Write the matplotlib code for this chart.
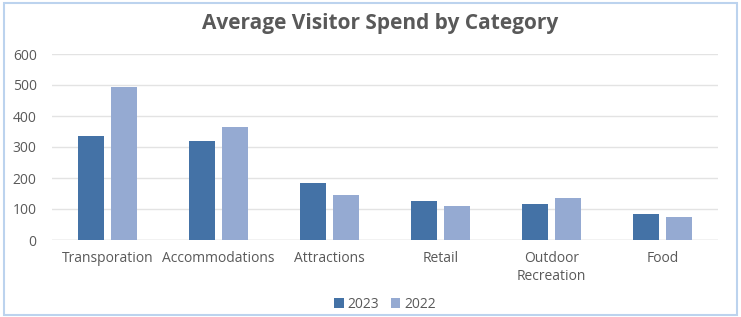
import matplotlib
matplotlib.use("Agg")
import matplotlib.pyplot as plt
import numpy as np
from matplotlib.patches import Rectangle

plt.rcParams['font.family'] = ['Open Sans', 'DejaVu Sans']

categories = ['Transporation', 'Accommodations', 'Attractions', 'Retail',
              'Outdoor\nRecreation', 'Food']
spend_2023 = [335, 320, 184, 126, 117, 84]
spend_2022 = [495, 365, 145, 110, 135, 75]

c2023 = '#4472a6'
c2022 = '#95aad2'
grey = '#595959'

fig = plt.figure(figsize=(7.41, 3.17), dpi=100)
ax = fig.add_axes([52 / 741, 1 - 240 / 317, 666 / 741, 186 / 317])

x = np.arange(len(categories))
w = 0.235
ax.bar(x - 0.147, spend_2023, w, color=c2023, label='2023', zorder=3)
ax.bar(x + 0.147, spend_2022, w, color=c2022, label='2022', zorder=3)

ax.set_xlim(-0.5, len(categories) - 0.5)
ax.set_ylim(0, 600)
ax.set_yticks(range(0, 601, 100))
ax.grid(axis='y', color='#e3e3e3', linewidth=1, zorder=0)
for s in ax.spines.values():
    s.set_visible(False)
ax.axhline(0, color='#d9d9d9', linewidth=1, zorder=2)
ax.tick_params(length=0, colors=grey, labelsize=10)
ax.tick_params(axis='y', pad=11)
ax.tick_params(axis='x', pad=8)
ax.set_xticks(x)
ax.set_xticklabels(categories, linespacing=1.25)

fig.text(380 / 741, 1 - 23 / 317, 'Average Visitor Spend by Category',
         ha='center', va='center', fontsize=15, fontweight='bold', color=grey)

leg = fig.legend(loc='center', bbox_to_anchor=(385 / 741, 1 - 304 / 317), ncol=2,
                 frameon=False, fontsize=10, handlelength=0.7, handleheight=0.7,
                 handletextpad=0.3, columnspacing=0.8)
for t in leg.get_texts():
    t.set_color(grey)

fig.patches.append(Rectangle((4 / 741, 2 / 317), 733 / 741, 312 / 317,
                             transform=fig.transFigure, fill=False,
                             edgecolor='#bcd3ee', linewidth=1.5))

fig.savefig('out.png', dpi=100)
